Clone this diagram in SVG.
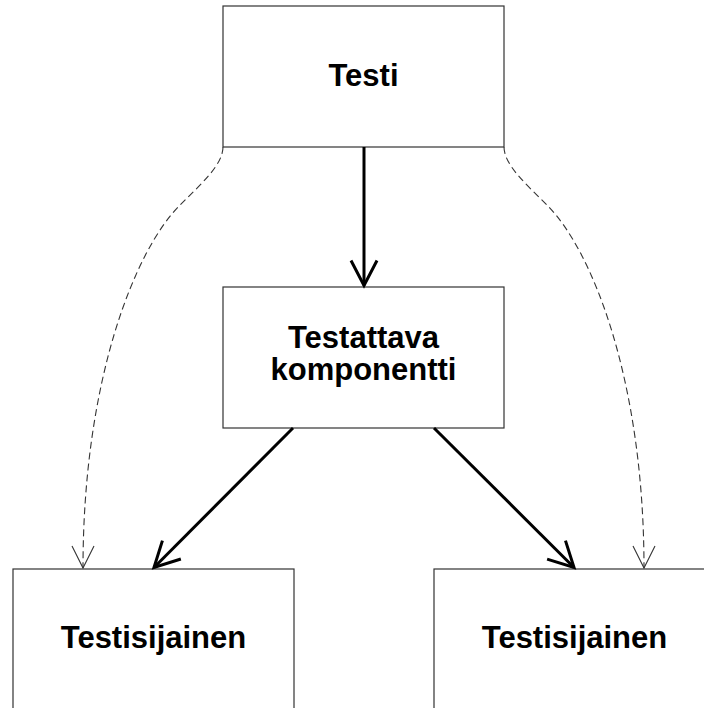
<svg xmlns="http://www.w3.org/2000/svg" width="704" height="708" viewBox="0 0 704 708">
  <style>
    .box { fill: #ffffff; stroke: #333333; stroke-width: 1.2; }
    .label { font-family: "Liberation Sans", Arial, sans-serif; font-weight: bold; font-size: 31px; fill: #000000; text-anchor: middle; }
    .solid { fill: none; stroke: #000000; stroke-width: 3; }
    .dashed { fill: none; stroke: #333333; stroke-width: 1.1; stroke-dasharray: 7 4; }
  </style>
  <defs>
    <marker id="openArrow" markerUnits="userSpaceOnUse" orient="auto" markerWidth="40" markerHeight="40" viewBox="-30 -20 40 40" refX="0" refY="0" overflow="visible">
      <path d="M-25,-13 L0,0 L-25,13" fill="none" stroke="#000000" stroke-width="3" stroke-linejoin="miter"/>
    </marker>
    <marker id="thinArrow" markerUnits="userSpaceOnUse" orient="auto" markerWidth="40" markerHeight="40" viewBox="-30 -20 40 40" refX="0" refY="0" overflow="visible">
      <path d="M-22,-11 L0,0 L-22,11" fill="none" stroke="#333333" stroke-width="1.1"/>
    </marker>
  </defs>
  <rect width="704" height="708" fill="#ffffff"/>

  <g id="connectors">
    <path class="dashed" d="M223,147 C223,165 200,185 180,205 C135,250 83,380 83,568" marker-end="url(#thinArrow)"/>
    <path class="dashed" d="M504,147 C504,165 527,185 547,205 C592,250 644,380 644,568" marker-end="url(#thinArrow)"/>
  </g>

  <g id="node-testi">
    <rect class="box" x="223" y="6" width="281" height="141"/>
    <text class="label" x="363.5" y="86">Testi</text>
  </g>

  <g id="node-komponentti">
    <rect class="box" x="223" y="287" width="281" height="141"/>
    <text class="label" x="363.5" y="348">Testattava</text>
    <text class="label" x="363.5" y="380">komponentti</text>
  </g>

  <g id="node-sijainen-1">
    <rect class="box" x="13" y="569" width="281" height="160"/>
    <text class="label" x="153.5" y="648">Testisijainen</text>
  </g>

  <g id="node-sijainen-2">
    <rect class="box" x="434" y="569" width="281" height="160"/>
    <text class="label" x="574.5" y="648">Testisijainen</text>
  </g>

  <g id="solid-connectors">
    <path class="solid" d="M364,147 L364,285.5" marker-end="url(#openArrow)"/>
    <path class="solid" d="M293,428 L154,567.5" marker-end="url(#openArrow)"/>
    <path class="solid" d="M434,428 L574,567.5" marker-end="url(#openArrow)"/>
  </g>
</svg>
